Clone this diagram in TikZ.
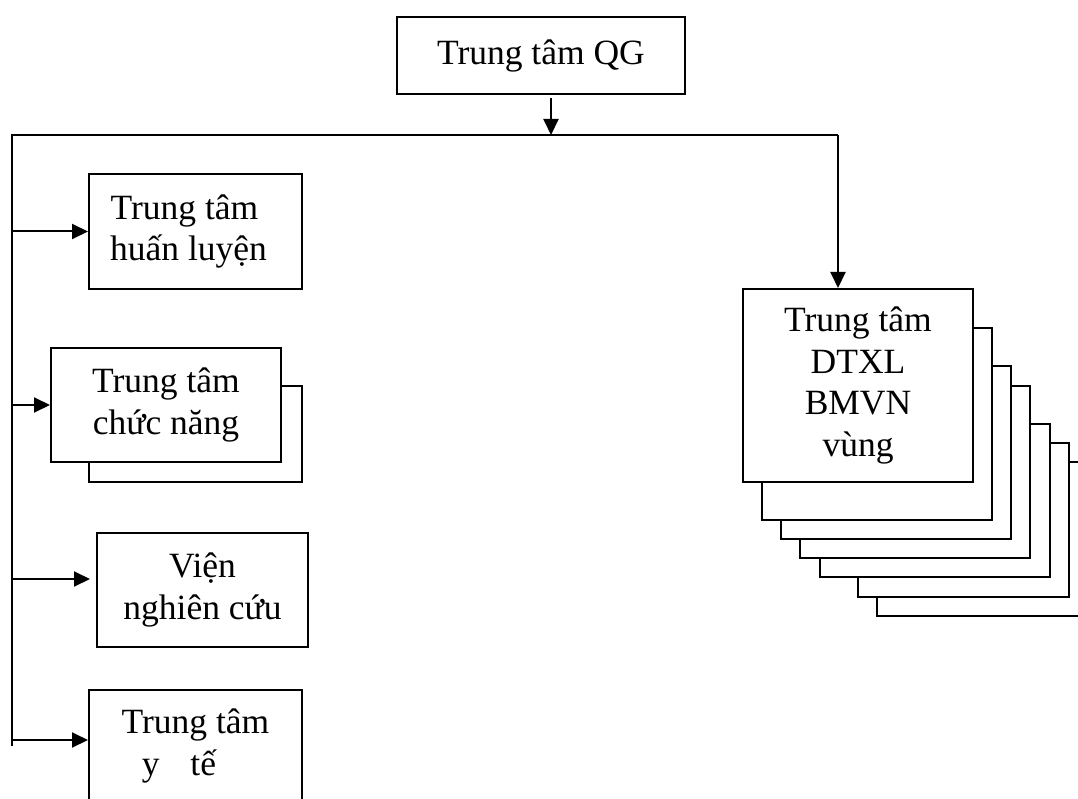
\documentclass[tikz,border=0pt]{standalone}
\usepackage{fontspec}
\setmainfont{Liberation Serif}
\usetikzlibrary{arrows.meta}
\begin{document}
\begin{tikzpicture}[x=1pt,y=-1pt,
  box/.style={draw, line width=2pt, fill=white, rectangle, inner sep=0pt,
    anchor=north west, align=center, font=\fontsize{35.5}{41.5}\selectfont},
  link/.style={line width=2pt},
  arr/.style={line width=2pt, -{Triangle[length=16pt,width=15pt]}}]
\useasboundingbox (0,0) rectangle (1078,799);
\clip (0,0) rectangle (1078,799);

% national centre
\node[box, minimum width=288pt, minimum height=77pt] (qg) at (396,16) {Trung tâm QG};

% left column
\node[box, minimum width=213pt, minimum height=115pt] (hl) at (88,173)
  {Trung tâm\hspace*{22pt}\\huấn luyện\hspace*{14pt}};
\node[box, minimum width=213pt, minimum height=96pt] (cnback) at (88,385) {};
\node[box, minimum width=230pt, minimum height=114pt] (cn) at (50,347) {Trung tâm\\chức năng};
\node[box, minimum width=211pt, minimum height=114pt] (nc) at (96,532) {Viện\\nghiên cứu};
\node[box, minimum width=213pt, minimum height=112pt] (yt) at (88,689)
  {Trung tâm\\y\hspace{22pt} tế\hspace*{33pt}};

% stack of regional centres, back to front
\node[box, minimum width=224pt, minimum height=154pt] (r6) at (876,461) {};
\node[box, minimum width=211pt, minimum height=154pt] (r5) at (857,442) {};
\node[box, minimum width=230pt, minimum height=153pt] (r4) at (819,423) {};
\node[box, minimum width=230pt, minimum height=172pt] (r3) at (799,385) {};
\node[box, minimum width=230pt, minimum height=173pt] (r2) at (780,365) {};
\node[box, minimum width=230pt, minimum height=192pt] (r1) at (761,327) {};
\node[box, minimum width=230pt, minimum height=193pt] (dtxl) at (742,288) {Trung tâm\\DTXL\\BMVN\\vùng};

% distribution bus
\coordinate (busL) at (12,135);
\coordinate (busR) at (838,135);
\coordinate (busEnd) at (12,746);
\coordinate (qgOut) at ([xshift=10pt]qg.south);
\coordinate (ncIn) at ([yshift=11pt]nc.west);
\coordinate (ytIn) at ([yshift=6pt]yt.west);

\draw[arr, shorten <=3pt] (qgOut) -- (qgOut |- busL);
\draw[link] (busEnd) -- (busL) -- (busR);
\draw[arr] (busR) -- (busR |- dtxl.north);
\draw[arr] (busL |- hl.west) -- (hl.west);
\draw[arr] (busL |- cn.west) -- (cn.west);
\draw[arr, shorten >=6pt] (busL |- ncIn) -- (ncIn);
\draw[arr] (busL |- ytIn) -- (ytIn);
\end{tikzpicture}
\end{document}
